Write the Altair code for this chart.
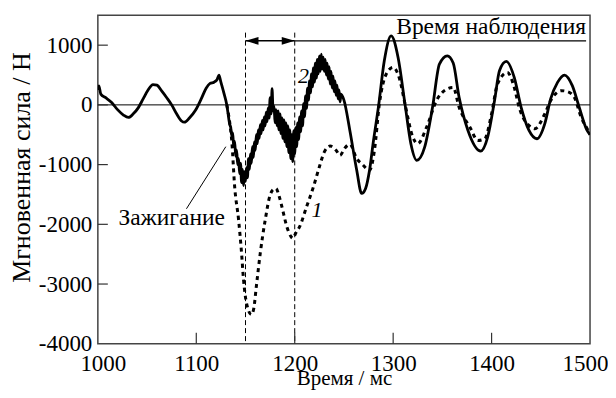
import altair as alt
import pandas as pd

# ---- Series 2 (solid) ----
s2_pre_t = [1000, 1001, 1003, 1008, 1014, 1020, 1026, 1031, 1036, 1041, 1046, 1051, 1056, 1060,
            1065, 1070, 1075, 1080, 1085, 1088, 1093, 1099, 1105, 1110, 1114, 1118, 1121, 1123,
            1125, 1128, 1131, 1134]
s2_pre_v = [250, 320, 180, 120, 40, -80, -170, -210, -150, -50, 100, 250, 340, 330,
            230, 120, 0, -150, -270, -290, -220, -95, 100, 280, 360, 380, 420, 500,
            380, 200, 0, -330]
s2_noise_start = 1135
s2_noise_v = [-380, -520, -470, -700, -610, -860, -760, -1000, -900, -1150, -980, -1300, -1080,
              -1350, -1120, -1280, -1050, -1220, -900, -1080, -820, -980, -700, -880, -620, -760,
              -500, -650, -420, -560, -330, -480, -260, -420, -200, -350, -120, -280, -50, -220,
              120, -150, 270, -100, -20, -300, -80, -350, -100, -420, -150, -480, -220, -560,
              -250, -620, -300, -700, -350, -800, -420, -900, -500, -950, -430, -820, -380, -700,
              -300, -580, -200, -450, -100, -350, 20, -200, 150, -60, 280, 80, 400, 200, 520,
              300, 620, 380, 700, 450, 760, 520, 820, 560, 850, 600, 800, 560, 760, 500, 700,
              430, 640, 350, 560, 280, 480, 220, 400, 160, 330, 100, 250, 50, 180]
s2_post_t = [1250, 1256, 1263, 1268, 1272, 1276, 1280, 1285, 1291, 1298, 1305, 1312, 1318, 1324,
             1332, 1340, 1347, 1355, 1361, 1367, 1376, 1389, 1396, 1403, 1408, 1415, 1423, 1430,
             1438, 1446, 1454, 1460, 1467, 1474, 1482, 1489, 1497, 1500]
s2_post_v = [80, -428, -1095, -1483, -1400, -1095, -600, -40, 738, 1155, 793, 17, -650, -928,
             -707, -40, 683, 822, 700, 127, -428, -773, -540, 72, 572, 727, 460, -40,
             -428, -567, -317, 100, 377, 500, 322, -40, -428, -500]

# ---- Series 1 (dashed) ----
s1_t = [1131, 1134, 1136, 1139, 1143, 1146, 1148, 1151, 1156, 1158.5, 1161, 1165, 1170, 1175,
        1178, 1181, 1184, 1187, 1192, 1196, 1198, 1201, 1205, 1212, 1219, 1225, 1230, 1236,
        1242, 1246, 1251, 1256, 1263, 1269, 1276, 1281, 1286, 1293, 1300, 1307, 1312, 1320,
        1325, 1334, 1344, 1352, 1361, 1367, 1378, 1386, 1393, 1400, 1406, 1416, 1423, 1428,
        1440, 1444, 1454, 1460, 1471, 1477, 1484, 1491, 1498, 1500]
s1_v = [0, -300, -595, -1373, -1928, -2483, -2928, -3317, -3512, -3400, -3040, -2483, -1928, -1512,
        -1420, -1400, -1520, -1707, -2040, -2200, -2233, -2150, -2040, -1707, -1373, -1040, -790, -690,
        -760, -845, -720, -660, -900, -1000, -1095, -760, 17, 517, 627, 405, 17, -540,
        -650, -373, 72, 238, 293, -40, -373, -595, -567, -150, 350, 543, 293, -40,
        -373, -400, -150, 72, 238, 222, 127, -207, -428, -500]

# ---- annotations ----
y_ticks = [1000, 0, -1000, -2000, -3000]
x_ticks = [1100, 1200, 1300, 1400]
vlines = [1150, 1200]
arrow_y = 1072
obs_end = 1496
font = "Liberation Serif"

s2_t = s2_pre_t + list(range(s2_noise_start, s2_noise_start + len(s2_noise_v))) + s2_post_t
s2_v = s2_pre_v + s2_noise_v + s2_post_v
df2 = pd.DataFrame({"t": s2_t, "v": s2_v})
df1 = pd.DataFrame({"t": s1_t, "v": s1_v})

xs = alt.Scale(domain=[1000, 1500], nice=False)
ys = alt.Scale(domain=[-4000, 1500], nice=False)

X = alt.X("t:Q", scale=xs, axis=alt.Axis(
    title="Время / мс", values=[1000, 1100, 1200, 1300, 1400, 1500], format="d",
    ticks=False, domain=False, grid=False, labelFont=font, labelFontSize=23,
    labelFlush=True, labelFlushOffset=18,
    labelColor="black", labelPadding=9, titleFont=font, titleFontSize=21,
    titleFontWeight="normal", titleColor="black", titleY=41, titleBaseline="alphabetic"))
Y = alt.Y("v:Q", scale=ys, axis=alt.Axis(
    title="Мгновенная сила / Н", values=[1000, 0, -1000, -2000, -3000, -4000],
    labelExpr="datum.value < 0 ? '-' + format(-datum.value, 'd') : format(datum.value, 'd')",
    ticks=False, domain=False, grid=False, labelFont=font, labelFontSize=23, labelFlush=False,
    labelColor="black", labelPadding=6, titleFont=font, titleFontSize=26,
    titleFontWeight="normal", titleColor="black", titleX=-76, titleY=152,
    titleBaseline="middle"))

zero = alt.Chart(pd.DataFrame({"v": [0]})).mark_rule(color="black", strokeWidth=1).encode(
    y=alt.Y("v:Q", scale=ys), x=alt.value(0), x2=alt.value(493))

vl = alt.Chart(pd.DataFrame({"t": vlines, "top": [1210, 1210], "bot": [-4000, -4000]})).mark_rule(
    color="black", strokeWidth=1, strokeDash=[5, 3]).encode(
    x=alt.X("t:Q", scale=xs), y=alt.Y("top:Q", scale=ys), y2="bot:Q")

line1 = alt.Chart(df1).mark_line(color="black", strokeWidth=3, strokeDash=[4, 4],
                                 interpolate="monotone", clip=True).encode(x=X, y=Y)
line2 = alt.Chart(df2).mark_line(color="black", strokeWidth=2.8,
                                 interpolate="monotone", clip=True).encode(x=X, y=Y)

arrow_shaft = alt.Chart(pd.DataFrame({"a": [1150], "b": [1200], "v": [arrow_y]})).mark_rule(
    color="black", strokeWidth=1.5).encode(x=alt.X("a:Q", scale=xs), x2="b:Q", y=alt.Y("v:Q", scale=ys))
obs_line = alt.Chart(pd.DataFrame({"a": [1200], "b": [obs_end], "v": [arrow_y]})).mark_rule(
    color="black", strokeWidth=1.2).encode(x=alt.X("a:Q", scale=xs), x2="b:Q", y=alt.Y("v:Q", scale=ys))
head_l = alt.Chart(pd.DataFrame({"t": [1150], "v": [arrow_y]})).mark_point(
    shape="M 0 0 L 2 -0.6 L 2 0.6 Z", size=169, filled=True, color="black", opacity=1).encode(
    x=alt.X("t:Q", scale=xs), y=alt.Y("v:Q", scale=ys))
head_r = alt.Chart(pd.DataFrame({"t": [1200], "v": [arrow_y]})).mark_point(
    shape="M 0 0 L -2 -0.6 L -2 0.6 Z", size=169, filled=True, color="black", opacity=1).encode(
    x=alt.X("t:Q", scale=xs), y=alt.Y("v:Q", scale=ys))

obs_text = alt.Chart(pd.DataFrame({"t": [obs_end], "v": [1188], "s": ["Время наблюдения"]})).mark_text(
    align="right", baseline="alphabetic", font=font, fontSize=23.5, color="black").encode(
    x=alt.X("t:Q", scale=xs), y=alt.Y("v:Q", scale=ys), text="s:N")
ign_text = alt.Chart(pd.DataFrame({"t": [1075], "v": [-2010], "s": ["Зажигание"]})).mark_text(
    align="center", baseline="alphabetic", font=font, fontSize=23.5, color="black").encode(
    x=alt.X("t:Q", scale=xs), y=alt.Y("v:Q", scale=ys), text="s:N")
num_text = alt.Chart(pd.DataFrame({"t": [1209, 1222.5], "v": [372, -1878], "s": ["2", "1"]})).mark_text(
    align="center", baseline="alphabetic", font=font, fontSize=22, fontStyle="italic", color="black").encode(
    x=alt.X("t:Q", scale=xs), y=alt.Y("v:Q", scale=ys), text="s:N")
ign_line = alt.Chart(pd.DataFrame({"a": [1090], "b": [1130], "p": [-1740], "q": [-700]})).mark_rule(
    color="black", strokeWidth=1).encode(x=alt.X("a:Q", scale=xs), x2="b:Q",
                                         y=alt.Y("p:Q", scale=ys), y2="q:Q")

ytick = alt.Chart(pd.DataFrame({"v": y_ticks})).mark_rule(color="#333", strokeWidth=1.2).encode(
    y=alt.Y("v:Q", scale=ys), x=alt.value(0), x2=alt.value(10))
xtick = alt.Chart(pd.DataFrame({"t": x_ticks})).mark_rule(color="#333", strokeWidth=1.2).encode(
    x=alt.X("t:Q", scale=xs), y=alt.value(329), y2=alt.value(318))

chart = alt.layer(
    zero, vl, ytick, xtick, line1, line2, arrow_shaft, obs_line, head_l, head_r,
    obs_text, ign_text, num_text, ign_line
).properties(
    width=493, height=329,
    autosize=alt.AutoSizeParams(type="none"),
    padding={"left": 90, "top": 7, "right": 18, "bottom": 46},
).configure(
    background="white", font=font,
    view=alt.ViewConfig(stroke="#444", strokeWidth=1.5),
)

chart.save("out.html", embed_options={"renderer": "svg", "actions": False})
